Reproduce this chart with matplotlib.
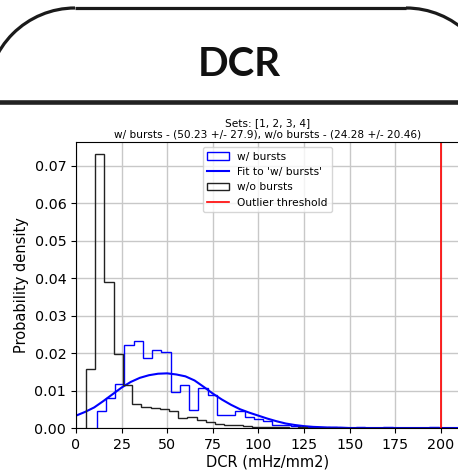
import numpy as np
import matplotlib
matplotlib.use('Agg')
import matplotlib.pyplot as plt
from matplotlib.patches import Arc

# histogram of DCR without bursts (black), bins of ~5.05 mHz/mm2 starting at 5.5
wo_start = 5.5
wo_width = 5.05
wo_bursts = [0.0157, 0.0731, 0.0391, 0.0198, 0.0114, 0.0064, 0.0057, 0.0054, 0.0050, 0.0046,
             0.0028, 0.0030, 0.0021, 0.0016, 0.0012, 0.0009, 0.0007, 0.0005, 0.0003, 0.0004,
             0.0002, 0.0003, 0.0001, 0.0002, 0.0001, 0.0000, 0.0001, 0.0001, 0.0000, 0.0001,
             0.0000, 0.0001, 0.0000, 0.0000, 0.0001, 0.0000, 0.0000, 0.0000, 0.0000, 0.0001]

# histogram of DCR with bursts (blue), bins of ~5.07 starting at 11.3
w_start = 11.3
w_width = 5.07
w_bursts = [0.0046, 0.0081, 0.0118, 0.0221, 0.0233, 0.0187, 0.0208, 0.0204, 0.0096, 0.0114,
            0.0049, 0.0106, 0.0087, 0.0036, 0.0036, 0.0045, 0.0030, 0.0025, 0.0020, 0.0009,
            0.0008, 0.0005, 0.0003, 0.0002, 0.0001, 0.0002, 0.0000, 0.0001, 0.0002, 0.0000,
            0.0001, 0.0002, 0.0000, 0.0001, 0.0000, 0.0001, 0.0002, 0.0000, 0.0001, 0.0001]

# fit curve every 5 units
fit_x = list(range(0, 215, 5))
fit_y = [0.0033, 0.0043, 0.0055, 0.0072, 0.0090, 0.0108, 0.0123, 0.0134, 0.0141, 0.0145,
         0.0146, 0.0143, 0.0138, 0.0127, 0.0110, 0.0092, 0.0076, 0.0062, 0.0050, 0.0041,
         0.0033, 0.0025, 0.0018, 0.0012, 0.0008, 0.0005, 0.0003, 0.0002, 0.0001, 0.0001,
         0.0, 0.0, 0.0, 0.0, 0.0, 0.0, 0.0, 0.0, 0.0, 0.0, 0.0, 0.0, 0.0]

threshold = 200
title_text = 'Sets: [1, 2, 3, 4]\nw/ bursts - (50.23 +/- 27.9), w/o bursts - (24.28 +/- 20.46)'

W, H = 458, 470
fig = plt.figure(figsize=(W / 100, H / 100), dpi=100)

# header card
hdr = fig.add_axes([0, 0, 1, 1])
hdr.set_xlim(0, W)
hdr.set_ylim(H, 0)
hdr.axis('off')
card = '#1a1a1a'
hdr.add_patch(Arc((75, 96), 176, 176, theta1=180, theta2=270, lw=2.3, color=card))
hdr.add_patch(Arc((406, 96), 176, 176, theta1=270, theta2=360, lw=2.3, color=card))
hdr.plot([75, 406], [8, 8], color=card, lw=2.3, solid_capstyle='butt')
hdr.plot([0, W], [101.7, 101.7], color='#222222', lw=3.3)
hdr.text(239, 76.5, 'DCR', family='Lato', weight='bold', fontsize=29,
         ha='center', va='baseline', color='#111111')

ax = fig.add_axes([76 / W, 42 / H, 383 / W, 286 / H])

wo_edges = wo_start + wo_width * np.arange(len(wo_bursts) + 1)
w_edges = w_start + w_width * np.arange(len(w_bursts) + 1)

ax.hist(w_edges[:-1], bins=w_edges, weights=w_bursts, histtype='step',
        color='blue', lw=1.0, label='w/ bursts')
ax.plot(fit_x, fit_y, color='blue', lw=1.5, label="Fit to 'w/ bursts'")
ax.hist(wo_edges[:-1], bins=wo_edges, weights=wo_bursts, histtype='step',
        color='#222222', lw=1.0, label='w/o bursts')
ax.axvline(threshold, color='red', lw=1.2, label='Outlier threshold')

ax.set_xlim(0, 210)
ax.set_ylim(0, 0.0764)
ax.set_xticks(range(0, 201, 25))
ax.set_yticks(np.arange(0, 0.071, 0.01))
ax.yaxis.set_major_formatter(matplotlib.ticker.FormatStrFormatter('%.2f'))
ax.tick_params(labelsize=10.3)
ax.grid(True, color='#c8c8c8', lw=1.0)
ax.set_xlabel('DCR (mHz/mm2)', fontsize=10.5, labelpad=2)
ax.set_ylabel('Probability density', fontsize=10.5)
ax.set_title(title_text, fontsize=7.6, pad=3)
ax.legend(loc='upper center', fontsize=7.7)

fig.savefig('out.png', dpi=100)
